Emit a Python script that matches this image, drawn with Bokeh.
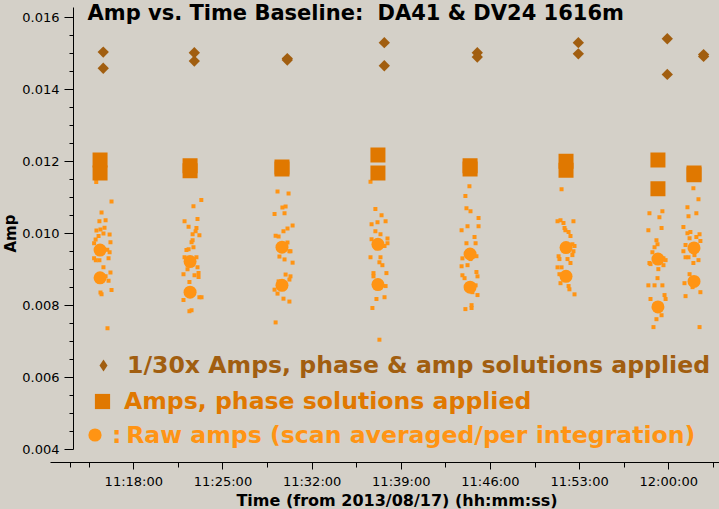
import pandas as pd
from bokeh.plotting import figure
from bokeh.models import (Range1d, LinearAxis, FixedTicker, DatetimeTickFormatter,
                          PrintfTickFormatter, Label, Legend, LegendItem, ColumnDataSource)
from bokeh.embed import file_html
from bokeh.resources import INLINE

DATE = "2013-08-17"

# ---------------- data ----------------
scan_times = ["11:15:21", "11:22:25", "11:29:38", "11:37:10", "11:44:24", "11:51:56", "11:59:09", "12:01:59"]
calamp_times = ["11:15:36", "11:22:45", "11:30:03", "11:37:40", "11:44:58", "11:52:54", "11:59:53", "12:02:44"]

calamp_hi = [0.01504, 0.01502, 0.01486, 0.01530, 0.01502, 0.01530, 0.01541, 0.01497]
calamp_lo = [0.01459, 0.01479, 0.01482, 0.01466, 0.01490, 0.01499, 0.01442, 0.01492]
phase_hi = [0.01204, 0.01188, 0.01185, 0.01218, 0.01188, 0.01201, 0.01204, 0.01168]
phase_lo = [0.01168, 0.01174, 0.01179, 0.01168, 0.01179, 0.01176, 0.01124, 0.01163]
rawavg_hi = [0.00954, 0.00922, 0.00962, 0.00970, 0.00943, 0.00961, 0.00929, 0.00960]
rawavg_lo = [0.00877, 0.00837, 0.00856, 0.00858, 0.00851, 0.00881, 0.00796, 0.00867]

raw_t1 = ["11:15:03", "11:16:15", "11:15:28", "11:15:18", "11:15:47", "11:15:04", "11:15:23", "11:15:42",
          "11:16:06", "11:15:14", "11:15:00", "11:14:53", "11:15:37", "11:16:10", "11:16:06", "11:15:55",
          "11:14:53", "11:15:18", "11:15:01", "11:16:01", "11:15:37", "11:16:10", "11:15:47", "11:16:01",
          "11:15:08", "11:15:23", "11:15:28", "11:16:15", "11:15:56"]
raw_a1 = [0.01143, 0.01089, 0.01058, 0.01034, 0.01037, 0.01008, 0.01011, 0.01016, 0.00997, 0.00993,
          0.00983, 0.00973, 0.01000, 0.00976, 0.00948, 0.00955, 0.00931, 0.00926, 0.00926, 0.00931,
          0.00906, 0.00892, 0.00881, 0.00869, 0.00873, 0.00836, 0.00831, 0.00843, 0.00737]
raw_t2 = ["11:23:18", "11:22:41", "11:23:00", "11:21:59", "11:22:18", "11:22:55", "11:22:37", "11:23:09",
          "11:22:51", "11:22:32", "11:22:37", "11:22:08", "11:22:18", "11:22:41", "11:21:59", "11:22:55",
          "11:22:13", "11:23:00", "11:21:54", "11:22:46", "11:23:05", "11:23:05", "11:22:22", "11:23:09",
          "11:23:19", "11:21:54", "11:22:32", "11:22:22"]
raw_a2 = [0.01093, 0.01076, 0.01040, 0.01034, 0.01019, 0.01015, 0.00998, 0.00995, 0.01006, 0.00976,
          0.00981, 0.00954, 0.00956, 0.00962, 0.00934, 0.00934, 0.00901, 0.00906, 0.00887, 0.00884,
          0.00890, 0.00879, 0.00865, 0.00823, 0.00823, 0.00815, 0.00787, 0.00784]
raw_t3 = ["11:29:17", "11:30:09", "11:29:40", "11:29:55", "11:29:03", "11:29:50", "11:30:28", "11:30:04",
          "11:29:45", "11:29:08", "11:29:22", "11:30:04", "11:30:18", "11:30:13", "11:29:26", "11:29:50",
          "11:30:28", "11:29:55", "11:30:18", "11:30:13", "11:29:22", "11:29:03", "11:29:17", "11:29:45",
          "11:30:13", "11:29:08"]
raw_a3 = [0.01117, 0.01111, 0.01072, 0.01075, 0.01054, 0.01056, 0.01022, 0.01014, 0.01006, 0.00994,
          0.00992, 0.00975, 0.00951, 0.00951, 0.00936, 0.00928, 0.00919, 0.00886, 0.00881, 0.00872,
          0.00867, 0.00844, 0.00833, 0.00819, 0.00811, 0.00753]
raw_t4 = ["11:36:35", "11:36:58", "11:37:27", "11:36:40", "11:37:08", "11:37:46", "11:36:58", "11:37:22",
          "11:36:40", "11:37:55", "11:37:55", "11:37:41", "11:37:03", "11:36:35", "11:37:22", "11:37:17",
          "11:37:31", "11:36:49", "11:36:49", "11:37:50", "11:37:46", "11:37:41", "11:37:03", "11:36:44",
          "11:37:17"]
raw_a4 = [0.01144, 0.01068, 0.01051, 0.01026, 0.01031, 0.01034, 0.01006, 0.00998, 0.00984, 0.00986,
          0.00973, 0.00965, 0.00959, 0.00934, 0.00934, 0.00920, 0.00912, 0.00890, 0.00881, 0.00890,
          0.00854, 0.00823, 0.00818, 0.00793, 0.00705]
raw_t5 = ["11:44:21", "11:44:02", "11:44:07", "11:44:26", "11:45:04", "11:44:12", "11:45:04", "11:43:44",
          "11:44:45", "11:44:07", "11:44:50", "11:43:48", "11:44:26", "11:44:54", "11:43:44", "11:44:12",
          "11:44:54", "11:44:59", "11:43:48", "11:43:58", "11:44:50", "11:44:35", "11:44:59", "11:44:31",
          "11:44:31", "11:44:02"]
raw_a5 = [0.01131, 0.01104, 0.01070, 0.01062, 0.01043, 0.01020, 0.01020, 0.01009, 0.00990, 0.00973,
          0.00973, 0.00931, 0.00929, 0.00937, 0.00909, 0.00912, 0.00893, 0.00881, 0.00884, 0.00876,
          0.00856, 0.00837, 0.00829, 0.00801, 0.00793, 0.00790]
raw_t6 = ["11:51:35", "11:51:16", "11:51:30", "11:51:44", "11:52:31", "11:51:49", "11:51:53", "11:52:08",
          "11:52:17", "11:52:26", "11:52:36", "11:52:31", "11:52:26", "11:51:21", "11:51:25", "11:52:03",
          "11:52:17", "11:51:16", "11:51:35", "11:51:25", "11:51:30", "11:52:08", "11:52:12", "11:52:36"]
raw_a6 = [0.01123, 0.01034, 0.01037, 0.01029, 0.01034, 0.01015, 0.01009, 0.01004, 0.00993, 0.00970,
          0.00965, 0.00951, 0.00940, 0.00937, 0.00929, 0.00929, 0.00918, 0.00906, 0.00906, 0.00887,
          0.00862, 0.00854, 0.00845, 0.00831]
raw_t7 = ["11:58:29", "11:59:30", "11:59:16", "11:58:24", "11:59:26", "11:59:02", "11:59:07", "11:58:53",
          "11:58:43", "11:59:35", "11:59:45", "11:58:29", "11:58:34", "11:59:35", "11:59:11", "11:59:07",
          "11:58:24", "11:58:53", "11:59:30", "11:59:40", "11:58:34", "11:59:45", "11:59:26", "11:59:02",
          "11:58:48"]
raw_a7 = [0.01056, 0.01062, 0.01045, 0.01009, 0.01015, 0.00981, 0.00970, 0.00962, 0.00948, 0.00931,
          0.00926, 0.00918, 0.00915, 0.00912, 0.00901, 0.00876, 0.00856, 0.00856, 0.00856, 0.00829,
          0.00818, 0.00818, 0.00773, 0.00762, 0.00740]
raw_t8 = ["12:01:56", "12:02:20", "12:01:28", "12:02:10", "12:01:33", "12:01:09", "12:01:28", "12:01:42",
          "12:02:25", "12:01:38", "12:02:10", "12:02:29", "12:01:19", "12:01:09", "12:02:01", "12:01:19",
          "12:01:33", "12:02:20", "12:01:56", "12:01:38", "12:01:14", "12:01:52", "12:02:29", "12:01:19",
          "12:02:25"]
raw_a8 = [0.01126, 0.01095, 0.01073, 0.01056, 0.01048, 0.01018, 0.01001, 0.01004, 0.00998, 0.00987,
          0.00990, 0.00979, 0.00968, 0.00951, 0.00940, 0.00934, 0.00934, 0.00926, 0.00918, 0.00887,
          0.00862, 0.00851, 0.00837, 0.00826, 0.00740]

x_major_ticks = ["11:18:00", "11:25:00", "11:32:00", "11:39:00", "11:46:00", "11:53:00", "12:00:00"]
x_minor_ticks = ["11:13:00", "11:14:30", "11:21:30", "11:28:30", "11:35:30", "11:42:30", "11:49:30",
                 "11:56:30", "12:03:30"]
y_major_ticks = [0.004, 0.006, 0.008, 0.010, 0.012, 0.014, 0.016]
y_minor_ticks = [0.0045, 0.005, 0.0055, 0.0065, 0.007, 0.0075, 0.0085, 0.009, 0.0095, 0.0105,
                 0.011, 0.0115, 0.0125, 0.013, 0.0135, 0.0145, 0.015, 0.0155]

title_left = "Amp vs. Time Baseline:"
title_right = "DA41 & DV24 1616m"
x_title = "Time (from 2013/08/17) (hh:mm:ss)"
y_title = "Amp"
leg_labels = ["1/30x Amps, phase & amp solutions applied",
              "Amps, phase solutions applied",
              ":\u2009Raw amps (scan averaged/per integration)"]

# ---------------- styling / layout ----------------
BG = "#d4d0c8"
C_CAL = "#a15e10"
C_PHASE = "#e07800"
C_RAW = "#ff9414"
FONT = "DejaVu Sans"
W, H = 719, 509
X_START, X_END = "11:07:32", "12:03:59"      # full canvas width
Y_START, Y_END = 0.0023333, 0.0164722        # full canvas height
YAXIS_AT = "11:13:16"                        # where the amp axis is drawn
XAXIS_AT = 0.0036389                         # where the time axis is drawn
XAXIS_FROM = "11:11:28"
YAXIS_TOP = 0.016278
DIAMOND = 0.785398                           # square turned by 45 degrees


def dt(ts):
    return pd.to_datetime([f"{DATE} {t}" for t in ts])


def ms(ts):
    return [float(v) / 1e6 for v in dt(ts).asi8]


raw_t = raw_t1 + raw_t2 + raw_t3 + raw_t4 + raw_t5 + raw_t6 + raw_t7 + raw_t8
raw_a = raw_a1 + raw_a2 + raw_a3 + raw_a4 + raw_a5 + raw_a6 + raw_a7 + raw_a8

src_raw = ColumnDataSource(dict(x=dt(raw_t), y=raw_a))
src_avg = ColumnDataSource(dict(x=dt(scan_times + scan_times), y=rawavg_hi + rawavg_lo))
src_phase = ColumnDataSource(dict(x=dt(scan_times + scan_times), y=phase_hi + phase_lo))
src_cal = ColumnDataSource(dict(x=dt(calamp_times + calamp_times), y=calamp_hi + calamp_lo))

p = figure(width=W, height=H, output_backend="svg", toolbar_location=None,
           x_axis_type="datetime", y_axis_location=None,
           x_range=Range1d(ms([X_START])[0], ms([X_END])[0]),
           y_range=Range1d(Y_START, Y_END),
           min_border_left=0, min_border_right=0, min_border_top=0, min_border_bottom=0,
           background_fill_color=BG, border_fill_color=BG, outline_line_color=None)
p.grid.visible = False

xa = p.xaxis[0]
xa.fixed_location = XAXIS_AT
xa.bounds = (ms([XAXIS_FROM])[0], ms([X_END])[0])
xa.ticker = FixedTicker(ticks=ms(x_major_ticks), minor_ticks=ms(x_minor_ticks))
fmt = "%H:%M:%S"
xa.formatter = DatetimeTickFormatter(seconds=fmt, minsec=fmt, minutes=fmt, hourmin=fmt, hours=fmt,
                                     days=fmt, context=None)
xa.major_tick_out = 7
xa.major_tick_in = 0
xa.minor_tick_out = 5
xa.minor_tick_in = 0
xa.major_label_standoff = 5
xa.major_label_text_font = FONT
xa.major_label_text_font_size = "13px"
xa.major_label_text_color = "black"
xa.axis_line_color = "black"
xa.major_tick_line_color = "black"
xa.minor_tick_line_color = "black"

ya = LinearAxis(fixed_location=ms([YAXIS_AT])[0], bounds=(0.004, YAXIS_TOP),
                ticker=FixedTicker(ticks=y_major_ticks, minor_ticks=y_minor_ticks),
                formatter=PrintfTickFormatter(format="%.3f"),
                major_tick_out=9, major_tick_in=0, minor_tick_out=4, minor_tick_in=0,
                major_label_standoff=5, major_label_text_font=FONT,
                major_label_text_font_size="13px", major_label_text_color="black",
                axis_line_color="black", major_tick_line_color="black",
                minor_tick_line_color="black")
p.add_layout(ya, "left")

p.scatter("x", "y", source=src_raw, marker="square", size=4, fill_color=C_RAW, line_color=None)
p.scatter("x", "y", source=src_avg, marker="circle", size=13, fill_color=C_RAW, line_color=None)
p.scatter("x", "y", source=src_phase, marker="square", size=15, fill_color=C_PHASE, line_color=None)
p.scatter("x", "y", source=src_cal, marker="square", size=8, angle=DIAMOND, fill_color=C_CAL,
          line_color=None)

# legend swatch renderers (a single undrawable point, only shown in the legends)
nan = float("nan")
lg_cal = p.scatter(x=[nan], y=[nan], marker="diamond", fill_color=C_CAL, line_color=None)
lg_phase = p.scatter(x=[nan], y=[nan], marker="square", fill_color=C_PHASE, line_color=None)
lg_raw = p.scatter(x=[nan], y=[nan], marker="circle", fill_color=C_RAW, line_color=None)

for lab, rend, col, loc, gs, so in [
    (leg_labels[0], lg_cal, C_CAL, (88, 129), 30, 9),
    (leg_labels[1], lg_phase, C_PHASE, (83, 89), 38, 3),
    (leg_labels[2], lg_raw, C_RAW, (78, 58), 33, 1),
]:
    lg = Legend(items=[LegendItem(label=lab, renderers=[rend])], location=loc,
                glyph_width=gs, glyph_height=gs, label_standoff=so, padding=0, margin=0,
                spacing=0, label_text_font=FONT, label_text_font_style="bold",
                label_text_font_size="23.6px", label_text_color=col,
                background_fill_alpha=0, border_line_alpha=0)
    p.add_layout(lg)

p.add_layout(Label(x=87, y=497, x_units="screen", y_units="screen", text=title_left,
                   text_font=FONT, text_font_style="bold", text_font_size="21px",
                   text_color="black", text_baseline="alphabetic"))
p.add_layout(Label(x=377, y=497, x_units="screen", y_units="screen", text=title_right,
                   text_font=FONT, text_font_style="bold", text_font_size="21px",
                   text_color="black", text_baseline="alphabetic"))
p.add_layout(Label(x=396.5, y=9, x_units="screen", y_units="screen", text=x_title,
                   text_font=FONT, text_font_style="bold", text_font_size="16px",
                   text_color="black", text_align="center", text_baseline="alphabetic"))
p.add_layout(Label(x=1, y=276, x_units="screen", y_units="screen", text=y_title, angle=1.5708,
                   text_font=FONT, text_font_style="bold", text_font_size="15px",
                   text_color="black", text_align="center", text_baseline="top"))

html = file_html(p, INLINE)
html = html.replace("</head>", "<style>html, body { background: #d4d0c8; }</style></head>", 1)
open("out.html", "w").write(html)
